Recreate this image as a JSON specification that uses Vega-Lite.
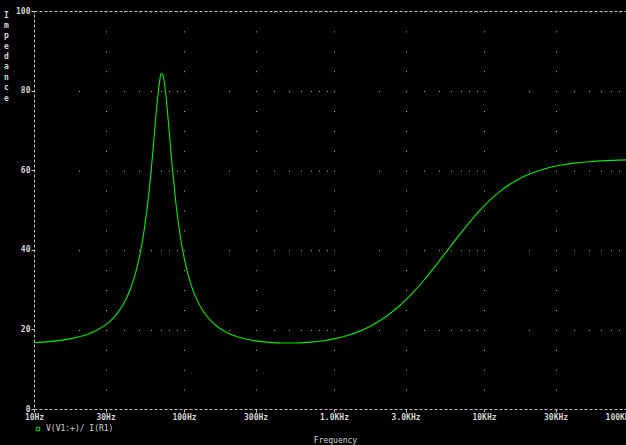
{
  "$schema": "https://vega.github.io/schema/vega-lite/v6.json",
  "width": 600,
  "height": 398,
  "autosize": {"type": "none"},
  "padding": {"left": 34, "top": 11, "right": -8, "bottom": 36},
  "background": "#000000",
  "config": {
    "font": "DejaVu Sans Mono",
    "view": {"stroke": "#c0c0c0", "strokeDash": [3, 2], "strokeWidth": 1}
  },
  "data": {
    "values": [
      {"f": 10, "z": 16.66, "s": "V(V1:+)/ I(R1)"},
      {"f": 12, "z": 16.86, "s": "V(V1:+)/ I(R1)"},
      {"f": 15, "z": 17.25, "s": "V(V1:+)/ I(R1)"},
      {"f": 18, "z": 17.75, "s": "V(V1:+)/ I(R1)"},
      {"f": 20, "z": 18.15, "s": "V(V1:+)/ I(R1)"},
      {"f": 23, "z": 18.86, "s": "V(V1:+)/ I(R1)"},
      {"f": 26, "z": 19.72, "s": "V(V1:+)/ I(R1)"},
      {"f": 30, "z": 21.15, "s": "V(V1:+)/ I(R1)"},
      {"f": 33, "z": 22.48, "s": "V(V1:+)/ I(R1)"},
      {"f": 36, "z": 24.09, "s": "V(V1:+)/ I(R1)"},
      {"f": 40, "z": 26.76, "s": "V(V1:+)/ I(R1)"},
      {"f": 44, "z": 30.21, "s": "V(V1:+)/ I(R1)"},
      {"f": 48, "z": 34.74, "s": "V(V1:+)/ I(R1)"},
      {"f": 52, "z": 40.70, "s": "V(V1:+)/ I(R1)"},
      {"f": 56, "z": 48.60, "s": "V(V1:+)/ I(R1)"},
      {"f": 60, "z": 58.77, "s": "V(V1:+)/ I(R1)"},
      {"f": 63, "z": 67.65, "s": "V(V1:+)/ I(R1)"},
      {"f": 66, "z": 76.39, "s": "V(V1:+)/ I(R1)"},
      {"f": 69, "z": 82.65, "s": "V(V1:+)/ I(R1)"},
      {"f": 70, "z": 84.16, "s": "V(V1:+)/ I(R1)"},
      {"f": 71.3, "z": 84.2, "s": "V(V1:+)/ I(R1)"},
      {"f": 72.5, "z": 83.73, "s": "V(V1:+)/ I(R1)"},
      {"f": 74, "z": 82.05, "s": "V(V1:+)/ I(R1)"},
      {"f": 77, "z": 76.14, "s": "V(V1:+)/ I(R1)"},
      {"f": 80, "z": 68.90, "s": "V(V1:+)/ I(R1)"},
      {"f": 84, "z": 59.76, "s": "V(V1:+)/ I(R1)"},
      {"f": 88, "z": 52.25, "s": "V(V1:+)/ I(R1)"},
      {"f": 93, "z": 45.11, "s": "V(V1:+)/ I(R1)"},
      {"f": 98, "z": 39.87, "s": "V(V1:+)/ I(R1)"},
      {"f": 105, "z": 34.64, "s": "V(V1:+)/ I(R1)"},
      {"f": 112, "z": 31.00, "s": "V(V1:+)/ I(R1)"},
      {"f": 120, "z": 28.04, "s": "V(V1:+)/ I(R1)"},
      {"f": 130, "z": 25.46, "s": "V(V1:+)/ I(R1)"},
      {"f": 140, "z": 23.63, "s": "V(V1:+)/ I(R1)"},
      {"f": 155, "z": 21.76, "s": "V(V1:+)/ I(R1)"},
      {"f": 170, "z": 20.49, "s": "V(V1:+)/ I(R1)"},
      {"f": 190, "z": 19.36, "s": "V(V1:+)/ I(R1)"},
      {"f": 215, "z": 18.47, "s": "V(V1:+)/ I(R1)"},
      {"f": 250, "z": 17.71, "s": "V(V1:+)/ I(R1)"},
      {"f": 300, "z": 17.11, "s": "V(V1:+)/ I(R1)"},
      {"f": 370, "z": 16.73, "s": "V(V1:+)/ I(R1)"},
      {"f": 450, "z": 16.57, "s": "V(V1:+)/ I(R1)"},
      {"f": 550, "z": 16.58, "s": "V(V1:+)/ I(R1)"},
      {"f": 700, "z": 16.80, "s": "V(V1:+)/ I(R1)"},
      {"f": 850, "z": 17.16, "s": "V(V1:+)/ I(R1)"},
      {"f": 1000, "z": 17.62, "s": "V(V1:+)/ I(R1)"},
      {"f": 1200, "z": 18.35, "s": "V(V1:+)/ I(R1)"},
      {"f": 1500, "z": 19.63, "s": "V(V1:+)/ I(R1)"},
      {"f": 1800, "z": 21.05, "s": "V(V1:+)/ I(R1)"},
      {"f": 2200, "z": 23.10, "s": "V(V1:+)/ I(R1)"},
      {"f": 2700, "z": 25.75, "s": "V(V1:+)/ I(R1)"},
      {"f": 3300, "z": 28.93, "s": "V(V1:+)/ I(R1)"},
      {"f": 4000, "z": 32.47, "s": "V(V1:+)/ I(R1)"},
      {"f": 5000, "z": 37.03, "s": "V(V1:+)/ I(R1)"},
      {"f": 6000, "z": 40.94, "s": "V(V1:+)/ I(R1)"},
      {"f": 7000, "z": 44.20, "s": "V(V1:+)/ I(R1)"},
      {"f": 8000, "z": 46.91, "s": "V(V1:+)/ I(R1)"},
      {"f": 9500, "z": 50.11, "s": "V(V1:+)/ I(R1)"},
      {"f": 11000, "z": 52.52, "s": "V(V1:+)/ I(R1)"},
      {"f": 13000, "z": 54.87, "s": "V(V1:+)/ I(R1)"},
      {"f": 15000, "z": 56.53, "s": "V(V1:+)/ I(R1)"},
      {"f": 18000, "z": 58.23, "s": "V(V1:+)/ I(R1)"},
      {"f": 22000, "z": 59.62, "s": "V(V1:+)/ I(R1)"},
      {"f": 27000, "z": 60.63, "s": "V(V1:+)/ I(R1)"},
      {"f": 33000, "z": 61.32, "s": "V(V1:+)/ I(R1)"},
      {"f": 40000, "z": 61.78, "s": "V(V1:+)/ I(R1)"},
      {"f": 50000, "z": 62.14, "s": "V(V1:+)/ I(R1)"},
      {"f": 65000, "z": 62.41, "s": "V(V1:+)/ I(R1)"},
      {"f": 80000, "z": 62.54, "s": "V(V1:+)/ I(R1)"},
      {"f": 100000, "z": 62.63, "s": "V(V1:+)/ I(R1)"}
    ]
  },
  "resolve": {"axis": {"x": "independent", "y": "independent"}},
  "layer": [
    {
      "mark": {"type": "point", "opacity": 0},
      "encoding": {
        "x": {
          "field": "f",
          "type": "quantitative",
          "scale": {"type": "log", "domain": [10, 100000], "nice": false},
          "axis": {
            "orient": "bottom",
            "values": [20, 40, 50, 60, 70, 80, 90, 200, 400, 500, 600, 700, 800, 900, 2000, 4000, 5000, 6000, 7000, 8000, 9000, 20000, 40000, 50000, 60000, 70000, 80000, 90000],
            "grid": true,
            "gridDash": [1, 78.6],
            "gridColor": "#b4b4b4",
            "gridOpacity": 1,
            "gridWidth": 1,
            "labels": false,
            "ticks": false,
            "domain": false,
            "title": null
          }
        },
        "y": {"field": "z", "type": "quantitative", "scale": {"domain": [0, 100], "nice": false}, "axis": null}
      }
    },
    {
      "mark": {"type": "line", "strokeWidth": 1.1, "interpolate": "monotone"},
      "encoding": {
        "x": {
          "field": "f",
          "type": "quantitative",
          "scale": {"type": "log", "domain": [10, 100000], "nice": false},
          "axis": {
            "orient": "bottom",
            "values": [10, 30, 100, 300, 1000, 3000, 10000, 30000, 100000],
            "labelExpr": "datum.value < 1000 ? datum.value + 'Hz' : (datum.value < 10000 ? format(datum.value / 1000, '.1f') + 'KHz' : (datum.value / 1000) + 'KHz')",
            "grid": true,
            "gridDash": [1, 18.9],
            "gridColor": "#b4b4b4",
            "gridOpacity": 1,
            "gridWidth": 1,
            "domain": false,
            "ticks": true,
            "tickSize": 3,
            "tickColor": "#c0c0c0",
            "labelFont": "DejaVu Sans Mono",
            "labelFontSize": 8,
            "labelFontWeight": "bold",
            "labelColor": "#d4d4d4",
            "labelPadding": 1,
            "labelFlush": false,
            "labelOverlap": false,
            "labelBound": false,
            "labelAlign": {"condition": {"test": "datum.value >= 100000", "value": "right"}, "value": "center"},
            "title": "Frequency",
            "titleFont": "DejaVu Sans Mono",
            "titleFontSize": 8,
            "titleFontWeight": "normal",
            "titleColor": "#d4d4d4",
            "titleBaseline": "alphabetic",
            "titleY": 33,
            "titleX": 301
          }
        },
        "y": {
          "field": "z",
          "type": "quantitative",
          "scale": {"domain": [0, 100], "nice": false},
          "axis": {
            "orient": "left",
            "values": [0, 20, 40, 60, 80, 100],
            "grid": false,
            "domain": false,
            "ticks": true,
            "tickSize": 3,
            "tickColor": "#c0c0c0",
            "labelFont": "DejaVu Sans Mono",
            "labelFontSize": 8,
            "labelFontWeight": "bold",
            "labelColor": "#d4d4d4",
            "labelPadding": 1,
            "labelOverlap": false,
            "title": ["I", "m", "p", "e", "d", "a", "n", "c", "e"],
            "titleAngle": 0,
            "titleX": -28,
            "titleY": 6.3,
            "titleAlign": "center",
            "titleBaseline": "alphabetic",
            "titleLineHeight": 10.34,
            "titleFont": "DejaVu Sans Mono",
            "titleFontSize": 8,
            "titleFontWeight": "bold",
            "titleColor": "#d4d4d4"
          }
        },
        "color": {
          "field": "s",
          "type": "nominal",
          "scale": {"range": ["#00ee00"]},
          "legend": {
            "title": null,
            "orient": "none",
            "legendX": 0,
            "legendY": 414,
            "padding": 0,
            "symbolType": "square",
            "symbolSize": 12,
            "symbolStrokeWidth": 1,
            "symbolFillColor": "transparent",
            "labelFont": "DejaVu Sans Mono",
            "labelFontSize": 8,
            "labelColor": "#d4d4d4",
            "labelOffset": 4
          }
        }
      }
    }
  ]
}
